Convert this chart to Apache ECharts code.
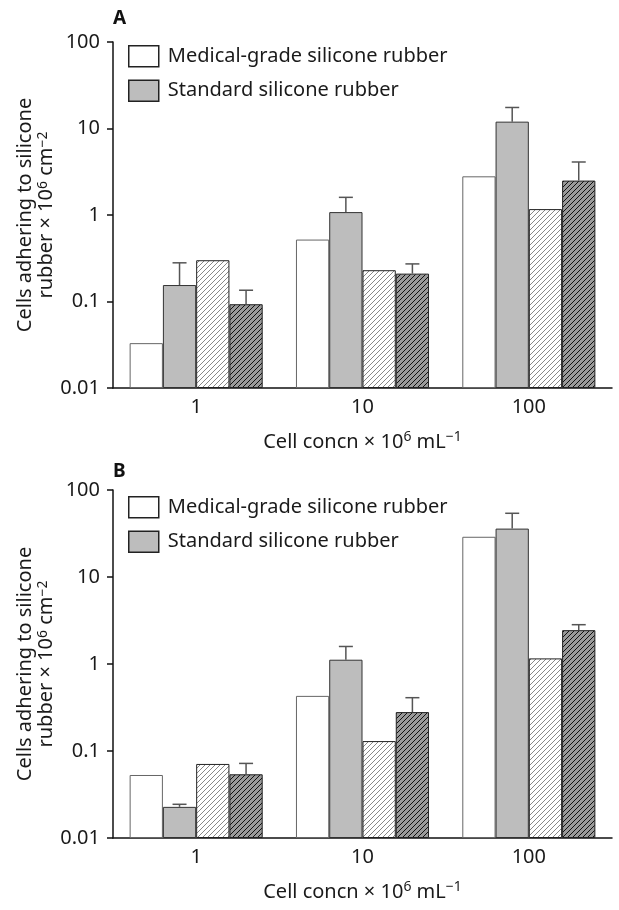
<!DOCTYPE html>
<html>
<head>
<meta charset="utf-8">
<script src="https://cdn.jsdelivr.net/npm/echarts@6/dist/echarts.min.js"></script>
<style>
  html, body { margin: 0; padding: 0; background: #fff; }
  #chart { width: 619px; height: 910px; }
</style>
</head>
<body>
<div id="chart"></div>
<script>
// 数据
const categories = ["1", "10", "100"];
const yTickLabels = ["0.01", "0.1", "1", "10", "100"];

// Panel A
const medA = [0.033, 0.52, 2.8];
const stdA = [0.155, 1.08, 12.0];
const stdASd = [0.125, 0.52, 5.5];
const medHatchA = [0.30, 0.23, 1.17];
const stdHatchA = [0.093, 0.21, 2.5];
const stdHatchASd = [0.042, 0.062, 1.6];

// Panel B
const medB = [0.053, 0.43, 29];
const stdB = [0.0228, 1.12, 36];
const stdBSd = [0.0016, 0.47, 18];
const medHatchB = [0.071, 0.13, 1.16];
const stdHatchB = [0.054, 0.28, 2.45];
const stdHatchBSd = [0.018, 0.13, 0.38];

const legendNames = ["Medical-grade silicone rubber", "Standard silicone rubber"];
const FONT = "Noto Sans";

// 斜线填充
function hatch(bg, lineColor) {
    const c = document.createElement("canvas");
    c.width = 5; c.height = 5;
    const ctx = c.getContext("2d");
    ctx.fillStyle = bg;
    ctx.fillRect(0, 0, 5, 5);
    ctx.strokeStyle = lineColor;
    ctx.lineWidth = 1;
    ctx.beginPath();
    ctx.moveTo(0, 5); ctx.lineTo(5, 0);
    ctx.moveTo(-1, 1); ctx.lineTo(1, -1);
    ctx.moveTo(4, 6); ctx.lineTo(6, 4);
    ctx.stroke();
    return { image: c, repeat: "repeat" };
}

const styles = [
    { color: "#ffffff", borderColor: "#666", borderWidth: 1 },
    { color: "#bdbdbd", borderColor: "#333", borderWidth: 1 },
    { color: hatch("#ffffff", "#888"), borderColor: "#222", borderWidth: 1 },
    { color: hatch("#9a9a9a", "#111"), borderColor: "#222", borderWidth: 1 }
];

function bars(idx, vals) {
    const names = [legendNames[0], legendNames[1], "Medical-grade (hatched)", "Standard (hatched)"];
    return [0, 1, 2, 3].map(function (k) {
        return {
            name: names[k],
            type: "bar",
            xAxisIndex: idx,
            yAxisIndex: idx,
            barWidth: "20%",
            barGap: "0%",
            data: vals[k],
            itemStyle: styles[k]
        };
    });
}

// 误差线 (只画上方)
function errBar(idx, pos, means, sds) {
    return {
        type: "custom",
        xAxisIndex: idx,
        yAxisIndex: idx,
        z: 5,
        silent: true,
        data: means.map(function (m, i) { return [i, m, m + sds[i]]; }),
        renderItem: function (params, api) {
            const i = api.value(0);
            const lo = api.coord([i, api.value(1)]);
            const hi = api.coord([i, api.value(2)]);
            const band = api.coord([1, 1])[0] - api.coord([0, 1])[0];
            const x = lo[0] + (pos - 1.5) * band * 0.2;
            const st = { stroke: "#555", lineWidth: 1.5 };
            return {
                type: "group",
                children: [
                    { type: "line", shape: { x1: x, y1: lo[1], x2: x, y2: hi[1] }, style: st },
                    { type: "line", shape: { x1: x - 7, y1: hi[1], x2: x + 7, y2: hi[1] }, style: st }
                ]
            };
        }
    };
}

const axisText = { color: "#1a1a1a", fontSize: 20, fontFamily: FONT };
const supStyle = { fontSize: 14, fontFamily: FONT, color: "#1a1a1a", verticalAlign: "top", lineHeight: 13 };

function xAx(idx) {
    return {
        type: "category",
        gridIndex: idx,
        data: categories,
        axisTick: { show: false },
        axisLine: { lineStyle: { color: "#111", width: 1.5 } },
        axisLabel: Object.assign({ margin: 9 }, axisText),
        name: "Cell concn × 10{s|6} mL{s|−1}",
        nameLocation: "middle",
        nameGap: 42,
        nameMoveOverlap: false,
        nameTextStyle: Object.assign({ lineHeight: 24, rich: { s: supStyle } }, axisText)
    };
}

function yAx(idx) {
    return {
        type: "log",
        gridIndex: idx,
        logBase: 10,
        min: 0.01,
        max: 100,
        startValue: 0.01,
        splitLine: { show: false },
        axisLine: { show: true, lineStyle: { color: "#111", width: 1.5 } },
        axisTick: { show: true, length: 6, lineStyle: { color: "#111", width: 1.5 } },
        minorTick: { show: false },
        axisLabel: Object.assign({
            margin: 13,
            formatter: function (v) {
                const e = Math.round(Math.log10(v)) + 2;
                return yTickLabels[e];
            }
        }, axisText),
        name: "Cells adhering to silicone\nrubber × 10{s|6} cm{s|−2}",
        nameLocation: "middle",
        nameRotate: 90,
        nameGap: 56,
        nameMoveOverlap: false,
        nameTextStyle: Object.assign({ lineHeight: 21, align: "center", rich: { s: supStyle } }, axisText)
    };
}

function legend(top) {
    return {
        data: legendNames,
        orient: "vertical",
        left: 123,
        top: top,
        icon: "rect",
        itemWidth: 30,
        itemHeight: 21,
        itemGap: 12,
        selectedMode: false,
        textStyle: { color: "#1a1a1a", fontSize: 20, fontFamily: FONT, padding: [0, 0, 0, 4] },
        itemStyle: { borderColor: "#222", borderWidth: 1.5 }
    };
}

let myChart = echarts.init(document.getElementById("chart"));
let option = {
    backgroundColor: "#fff",
    animation: false,
    grid: [
        { left: 113, right: 7, top: 42, height: 346, outerBoundsMode: "none" },
        { left: 113, right: 7, top: 490, height: 348, outerBoundsMode: "none" }
    ],
    legend: [legend(40), legend(491)],
    graphic: [
        { type: "text", left: 113, top: 9, style: { text: "A", fontSize: 19, fontWeight: "bold", fontFamily: FONT, fill: "#111" } },
        { type: "text", left: 113, top: 462, style: { text: "B", fontSize: 19, fontWeight: "bold", fontFamily: FONT, fill: "#111" } }
    ],
    xAxis: [xAx(0), xAx(1)],
    yAxis: [yAx(0), yAx(1)],
    series: [].concat(
        bars(0, [medA, stdA, medHatchA, stdHatchA]),
        bars(1, [medB, stdB, medHatchB, stdHatchB]),
        [
            errBar(0, 1, stdA, stdASd),
            errBar(0, 3, stdHatchA, stdHatchASd),
            errBar(1, 1, stdB, stdBSd),
            errBar(1, 3, stdHatchB, stdHatchBSd)
        ]
    )
};
myChart.setOption(option);
window.addEventListener("resize", function () {
    myChart.resize();
});
</script>
</body>
</html>
